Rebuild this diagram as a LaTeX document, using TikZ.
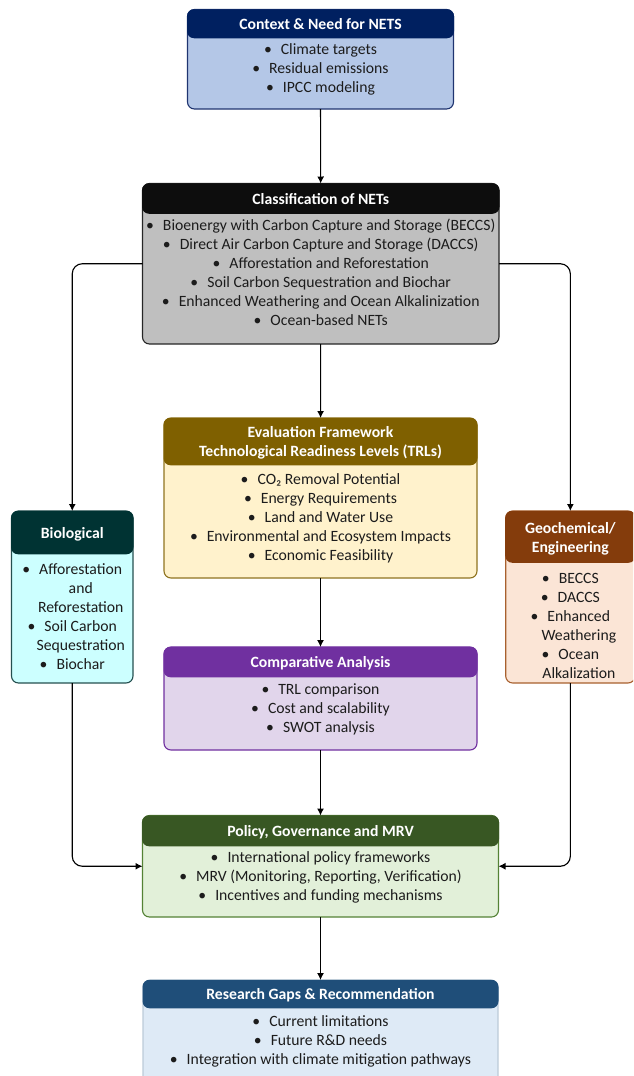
\documentclass[tikz,border=0pt]{standalone}
\usepackage{fontspec}
\setmainfont{Carlito}
\usetikzlibrary{arrows.meta,calc}
\definecolor{inkc}{HTML}{1C1C1C}
\definecolor{ctxH}{HTML}{002060}\definecolor{ctxB}{HTML}{B4C7E7}\definecolor{ctxE}{HTML}{1F3470}
\definecolor{clsH}{HTML}{0D0D0D}\definecolor{clsB}{HTML}{BFBFBF}\definecolor{clsE}{HTML}{262626}
\definecolor{evaH}{HTML}{7F6000}\definecolor{evaB}{HTML}{FFF2CC}\definecolor{evaE}{HTML}{8F7420}
\definecolor{cmpH}{HTML}{7030A0}\definecolor{cmpB}{HTML}{E1D5EB}\definecolor{cmpE}{HTML}{7030A0}
\definecolor{polH}{HTML}{385723}\definecolor{polB}{HTML}{E2F0D9}\definecolor{polE}{HTML}{548235}
\definecolor{resH}{HTML}{1F4E79}\definecolor{resB}{HTML}{DEEAF6}\definecolor{resE}{HTML}{BCCBD8}
\definecolor{bioH}{HTML}{003333}\definecolor{bioB}{HTML}{CCFFFF}\definecolor{bioE}{HTML}{255050}
\definecolor{geoH}{HTML}{843C0C}\definecolor{geoB}{HTML}{FBE5D6}\definecolor{geoE}{HTML}{A8602E}
\newcommand{\bl}[1]{\strut\textbullet\hspace{9pt}#1\\}
\newcommand{\cont}[1]{\strut\hspace*{17pt}#1\\}
\tikzset{
  x=1pt,y=-1pt,
  boxbody/.style={draw,rounded corners=7pt,line width=1.1pt,outer sep=0pt,inner sep=0pt},
  boxhead/.style={rounded corners=7pt,outer sep=0pt,inner sep=0pt},
  headtext/.style={text=white,font=\fontsize{15.7}{19}\selectfont\bfseries,align=center,inner sep=0pt},
  bodytext/.style={text=inkc,font=\fontsize{15.7}{19}\selectfont,align=center,inner sep=0pt,anchor=north},
  flow/.style={draw=black,line width=1.15pt,-{Latex[length=7pt,width=7pt]}},
  flowround/.style={flow,rounded corners=10pt}
}
% id, x1, y1, x2, y2, header bottom, colour prefix
\newcommand{\netbox}[7]{%
  \node[boxbody,draw=#7E,fill=#7B,minimum width={(#4)-(#2)},minimum height={(#5)-(#3)}]
    (#1) at ({((#2)+(#4))/2},{((#3)+(#5))/2}) {};
  \node[boxhead,fill=#7H,minimum width={(#4)-(#2)+1},minimum height={(#6)-(#3)+0.5}]
    (#1-h) at ({((#2)+(#4))/2},{((#3)+(#6))/2}) {};
}
% [header drop], id, header text, text top below box top, body lines
\newcommand{\nettext}[5][1]{%
  \node[headtext] (#2-l) at ($(#2-h)+(0,#1)$) {#3};
  \node[bodytext] (#2-t) at ($(#2.north)+(0,#4)$) {#5};
}
\begin{document}
\begin{tikzpicture}
\useasboundingbox (0,0) rectangle (633,1076);
\clip (0,0) rectangle (633,1076);
\netbox{ctx}{187.5}{9.5}{453.5}{109}{38}{ctx}
\netbox{cls}{142.5}{183.5}{499}{344}{213.5}{cls}
\netbox{eva}{164}{418}{477}{578}{465}{eva}
\netbox{cmp}{164}{647}{477}{750}{677}{cmp}
\netbox{pol}{142.5}{815.5}{498.5}{917}{846}{pol}
\netbox{res}{143}{980}{498}{1100}{1008}{res}
\netbox{bio}{11.5}{511}{133}{683}{554}{bio}
\netbox{geo}{505.7}{511}{635}{683}{562.5}{geo}

\nettext[0]{ctx}{Context \& Need for NETS}{31}{\bl{Climate targets}\bl{Residual emissions}\bl{IPCC modeling}}
\nettext{cls}{Classification of NETs}{33.5}{\bl{Bioenergy with Carbon Capture and Storage (BECCS)}\bl{Direct Air Carbon Capture and Storage (DACCS)}\bl{Afforestation and Reforestation}\bl{Soil Carbon Sequestration and Biochar}\bl{Enhanced Weathering and Ocean Alkalinization}\bl{Ocean-based NETs}}
\nettext{eva}{Evaluation Framework\\Technological Readiness Levels (TRLs)}{52.5}{\bl{CO₂ Removal Potential}\bl{Energy Requirements}\bl{Land and Water Use}\bl{Environmental and Ecosystem Impacts}\bl{Economic Feasibility}}
\nettext{cmp}{Comparative Analysis}{33.5}{\bl{TRL comparison}\bl{Cost and scalability}\bl{SWOT analysis}}
\nettext{pol}{Policy, Governance and MRV}{33.5}{\bl{International policy frameworks}\bl{MRV (Monitoring, Reporting, Verification)}\bl{Incentives and funding mechanisms}}
\nettext{res}{Research Gaps \& Recommendation}{32.5}{\bl{Current limitations}\bl{Future R\&D needs}\bl{Integration with climate mitigation pathways}}
\nettext[2]{bio}{Biological}{49.5}{\bl{Afforestation}\cont{and}\cont{Reforestation}\bl{Soil Carbon}\cont{Sequestration}\bl{Biochar}}
\nettext[2]{geo}{Geochemical/\\Engineering}{58.5}{\bl{BECCS}\bl{DACCS}\bl{Enhanced}\cont{Weathering}\bl{Ocean}\cont{Alkalization}}

\draw[flow] (ctx) -- (cls);
\draw[flow] (cls) -- (eva);
\draw[flow] (eva) -- (cmp);
\draw[flow] (cmp) -- (pol);
\draw[flow] (pol) -- (res);
\draw[flowround] (cls.west) -| (bio.north);
\draw[flowround] (cls.east) -| (geo.north);
\draw[flowround] (bio.south) |- (pol.west);
\draw[flowround] (geo.south) |- (pol.east);
\end{tikzpicture}
\end{document}
